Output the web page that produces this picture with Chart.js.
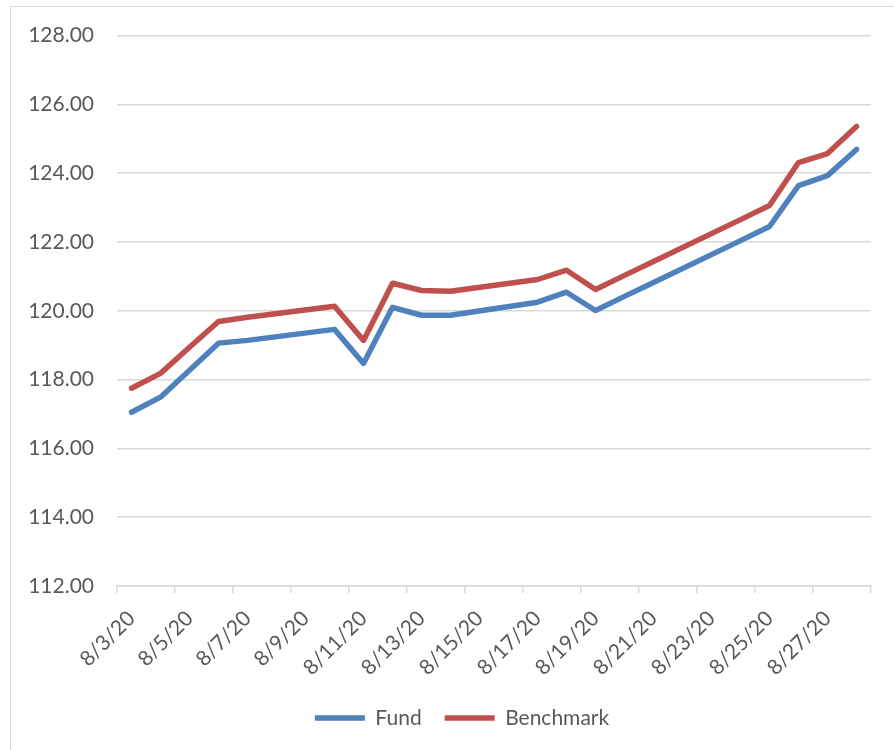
<!DOCTYPE html>
<html>
<head>
<meta charset="utf-8">
<script src="https://cdn.jsdelivr.net/npm/chart.js@4"></script>
<style>
  html, body { margin: 0; padding: 0; background: #fff; overflow: hidden; }
  #frame { position: absolute; left: 10px; top: 6px; width: 920px; height: 800px; border: 1px solid #D9D9D9; }
  #wrap { position: absolute; left: 0; top: 0; width: 894px; height: 750px; }
</style>
</head>
<body>
<div id="frame"></div>
<div id="wrap"><canvas id="myChart"></canvas></div>
<script>
// trading days in August 2020 (day of month)
var days = [3, 4, 5, 6, 7, 10, 11, 12, 13, 14, 17, 18, 19, 20, 21, 24, 25, 26, 27, 28];

var fund = [117.05, 117.49, 118.27, 119.06, 119.14, 119.46, 118.47, 120.10, 119.87, 119.87,
            120.25, 120.54, 120.01, 120.42, 120.82, 122.04, 122.45, 123.64, 123.93, 124.69];

var benchmark = [117.75, 118.18, 118.94, 119.69, 119.81, 120.13, 119.14, 120.80, 120.59, 120.57,
                 120.91, 121.18, 120.62, 121.03, 121.43, 122.65, 123.06, 124.31, 124.57, 125.36];

// tick marks sit between the days, labels every 2 days
var xTicks = [2.5, 4.5, 6.5, 8.5, 10.5, 12.5, 14.5, 16.5, 18.5, 20.5, 22.5, 24.5, 26.5, 28.5];

var textColor = '#595959';
var gridColor = '#D9D9D9';
var font = { family: 'Lato', size: 21 };

function toPoints(values) {
  return days.map((d, i) => ({ x: d, y: values[i] }));
}

const data = {
  datasets: [
    {
      label: 'Fund',
      data: toPoints(fund),
      borderColor: '#4F81BD',
      backgroundColor: '#4F81BD',
      borderWidth: 5.5,
      borderCapStyle: 'round',
      borderJoinStyle: 'round',
      pointRadius: 0,
      tension: 0
    },
    {
      label: 'Benchmark',
      data: toPoints(benchmark),
      borderColor: '#C0504D',
      backgroundColor: '#C0504D',
      borderWidth: 5.5,
      borderCapStyle: 'round',
      borderJoinStyle: 'round',
      pointRadius: 0,
      tension: 0
    }
  ]
};

// nudge the legend a bit to the right, like the original
const shiftLegend = {
  id: 'shiftLegend',
  afterLayout: (chart) => {
    chart.legend.left = 53;
  }
};

const config = {
  type: 'line',
  data,
  plugins: [shiftLegend],
  options: {
    responsive: true,
    maintainAspectRatio: false,
    animation: false,
    layout: {
      padding: { left: 0, right: 23, top: 35, bottom: 11.5 }
    },
    plugins: {
      legend: {
        position: 'bottom',
        labels: {
          color: textColor,
          font: font,
          usePointStyle: true,
          pointStyle: 'line',
          pointStyleWidth: 50,
          padding: 23
        }
      },
      tooltip: { enabled: false }
    },
    scales: {
      x: {
        type: 'linear',
        min: 2.5,
        max: 28.5,
        afterBuildTicks: (scale) => {
          scale.ticks = xTicks.map(v => ({ value: v }));
        },
        afterFit: (scale) => {
          scale.height = 98.5;
          scale.paddingRight = 0;
        },
        border: { color: gridColor, width: 1.5 },
        grid: { drawOnChartArea: false, drawTicks: true, tickLength: 7, color: gridColor, lineWidth: 1.5 },
        ticks: {
          color: textColor,
          font: font,
          minRotation: 45,
          maxRotation: 45,
          autoSkip: false,
          labelOffset: 14.5,
          padding: 13,
          callback: (value) => value > 28 ? '' : '8/' + (value + 0.5) + '/20'
        }
      },
      y: {
        min: 112,
        max: 128,
        afterFit: (scale) => {
          scale.width = 117;
        },
        border: { display: false },
        grid: { color: gridColor, lineWidth: 1.5, drawTicks: false },
        ticks: {
          stepSize: 2,
          color: textColor,
          font: font,
          padding: 23,
          callback: (value) => value.toFixed(2)
        }
      }
    }
  }
};

document.addEventListener('DOMContentLoaded', () => {
  myChart = new Chart(document.getElementById('myChart'), config);
});
</script>
</body>
</html>
